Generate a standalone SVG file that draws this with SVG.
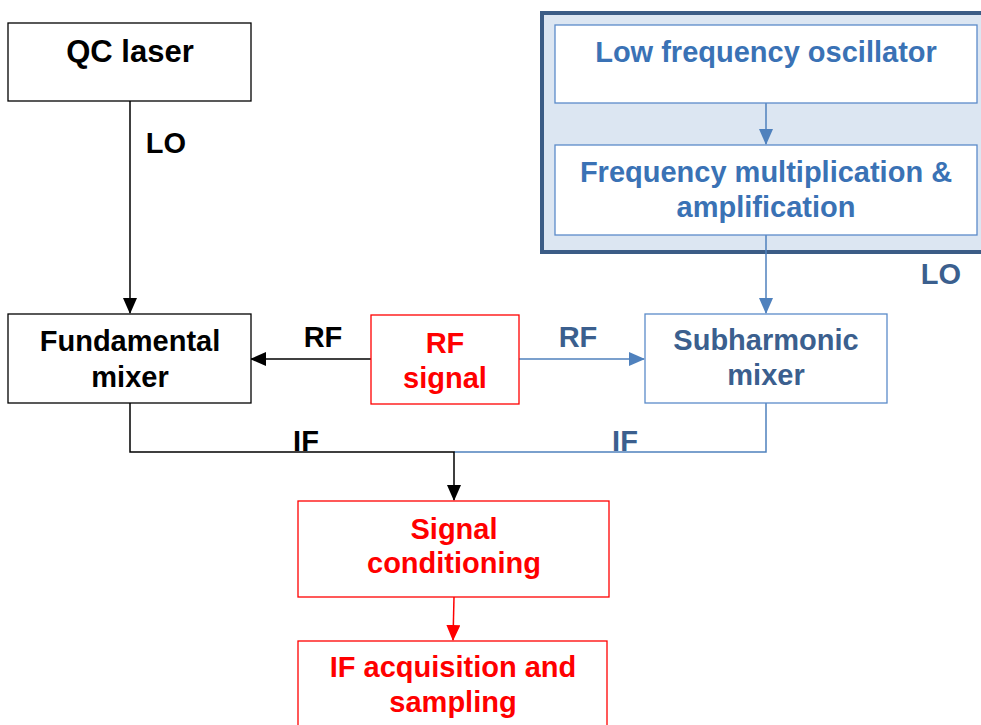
<svg xmlns="http://www.w3.org/2000/svg" width="981" height="725" viewBox="0 0 981 725">
<defs>
<style>
text{font-family:"Liberation Sans",Arial,sans-serif;font-weight:bold;font-size:29px;text-anchor:middle}
.k{fill:#000}.r{fill:#FF0000}.b{fill:#3A72B5}.d{fill:#3B5F8E}
.bk{fill:#fff;stroke:#000;stroke-width:1.3}
.br{fill:#fff;stroke:#FF0000;stroke-width:1.3}
.bb{fill:#fff;stroke:#5B8BC9;stroke-width:1.3}
</style>
<marker id="ak" markerWidth="16" markerHeight="14" refX="15" refY="7" orient="auto" markerUnits="userSpaceOnUse"><path d="M0,0L16,7L0,14Z" fill="#000"/></marker>
<marker id="ab" markerWidth="16" markerHeight="14" refX="15" refY="7" orient="auto" markerUnits="userSpaceOnUse"><path d="M0,0L16,7L0,14Z" fill="#4F81BD"/></marker>
<marker id="ar" markerWidth="16" markerHeight="14" refX="15" refY="7" orient="auto" markerUnits="userSpaceOnUse"><path d="M0,0L16,7L0,14Z" fill="#FF0000"/></marker>
</defs>
<g id="lo-frame"><rect x="542" y="13" width="460" height="239" fill="#DCE6F2" stroke="#3B5C86" stroke-width="4"/></g>
<g id="connectors" fill="none">
<path d="M130,101V313" stroke="#000" stroke-width="1.5" marker-end="url(#ak)"/>
<path d="M371,359H251" stroke="#000" stroke-width="1.5" marker-end="url(#ak)"/>
<path d="M519,359H644" stroke="#4F81BD" stroke-width="1.5" marker-end="url(#ab)"/>
<path d="M766,103V144" stroke="#4F81BD" stroke-width="1.5" marker-end="url(#ab)"/>
<path d="M766,235V313" stroke="#4F81BD" stroke-width="1.5" marker-end="url(#ab)"/>
<path d="M766,403V452H454" stroke="#4F81BD" stroke-width="1.5"/>
<path d="M130,403V452H454V500" stroke="#000" stroke-width="1.5" marker-end="url(#ak)"/>
<path d="M454,597L453,640" stroke="#FF0000" stroke-width="1.5" marker-end="url(#ar)"/>
</g>
<g id="labels">
<text class="k" x="166" y="153">LO</text>
<text class="d" x="941" y="284">LO</text>
<text class="k" x="323" y="347">RF</text>
<text class="d" x="578" y="347">RF</text>
<text class="k" x="306" y="451">IF</text>
<text class="d" x="625" y="451">IF</text>
</g>
<g id="qc-laser"><rect class="bk" x="8" y="23" width="243" height="78"/><text class="k" x="130" y="62" style="font-size:31px">QC laser</text></g>
<g id="low-freq-osc"><rect class="bb" x="555" y="25" width="422" height="78"/><text class="b" x="766" y="62">Low frequency oscillator</text></g>
<g id="freq-mult"><rect class="bb" x="555" y="145" width="422" height="90"/><text class="b" x="766" y="182">Frequency multiplication &amp;</text><text class="b" x="766" y="217">amplification</text></g>
<g id="fund-mixer"><rect class="bk" x="8" y="314" width="243" height="89"/><text class="k" x="130" y="351">Fundamental</text><text class="k" x="130" y="387">mixer</text></g>
<g id="rf-signal"><rect class="br" x="371" y="315" width="148" height="89"/><text class="r" x="445" y="353">RF</text><text class="r" x="445" y="388">signal</text></g>
<g id="sub-mixer"><rect class="bb" x="645" y="314" width="242" height="89"/><text class="d" x="766" y="350">Subharmonic</text><text class="d" x="766" y="385">mixer</text></g>
<g id="sig-cond"><rect class="br" x="298" y="501" width="311" height="96"/><text class="r" x="454" y="539">Signal</text><text class="r" x="454" y="573">conditioning</text></g>
<g id="if-acq"><rect class="br" x="298" y="641" width="309" height="100"/><text class="r" x="453" y="677">IF acquisition and</text><text class="r" x="453" y="712">sampling</text></g>
</svg>
